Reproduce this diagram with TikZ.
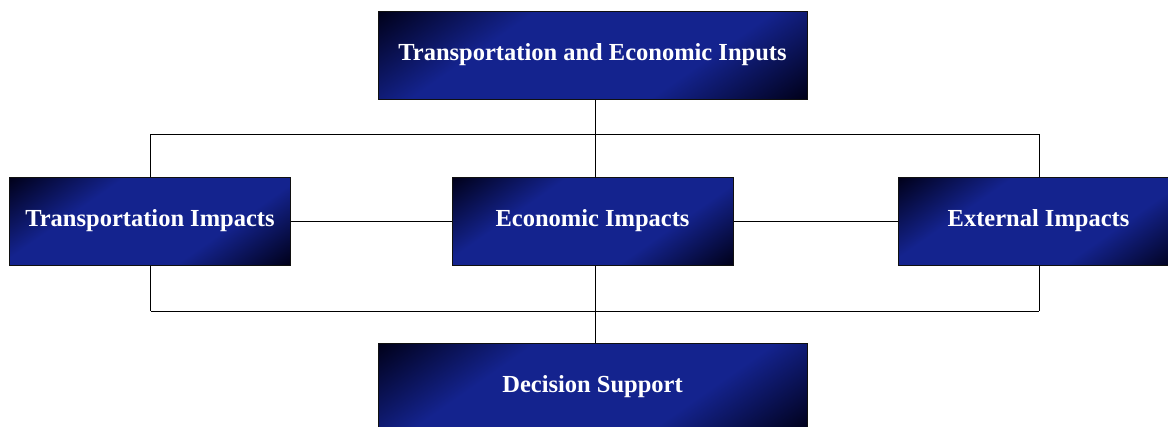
\documentclass[tikz,border=0pt]{standalone}
\usepackage{fontspec}
\setmainfont{Liberation Serif}
\definecolor{boxblue}{HTML}{14238E}
\definecolor{boxdark}{HTML}{000018}
\definecolor{boxedge}{HTML}{101010}
\pgfdeclarehorizontalshading{boxshade}{100bp}{color(0bp)=(boxdark); color(15bp)=(boxdark); color(35bp)=(boxblue); color(65bp)=(boxblue); color(85bp)=(boxdark); color(100bp)=(boxdark)}
\tikzset{
  box/.style={draw=boxedge, line width=1pt, shading=boxshade, shading angle=-55,
    minimum height=88pt, inner sep=0pt, text=white,
    font=\fontsize{24.5}{28}\selectfont\bfseries},
  wide/.style={box, minimum width=429pt},
  mid/.style={box, minimum width=281pt},
  link/.style={draw=black, line width=0.9pt}
}
\begin{document}
\begin{tikzpicture}[x=1pt,y=-1pt]
\useasboundingbox (0,0) rectangle (1168,426);
\fill[white] (0,0) rectangle (1168,426);
\coordinate (b1l) at (150.5,134);
\coordinate (b1r) at (1039,134);
\coordinate (b2l) at (150.5,311);
\coordinate (b2r) at (1039,311);
\node[wide] (inp) at (592.5,55) {Transportation and Economic Inputs};
\node[mid] (tr) at (150,221) {Transportation Impacts};
\node[mid] (eco) at (592.5,221) {Economic Impacts};
\node[mid] (ext) at (1038.5,221) {External Impacts};
\node[wide] (dec) at (592.5,387) {Decision Support};
\draw[link] ([xshift=2.5pt]inp.south) -- ([xshift=2.5pt]eco.north);
\draw[link] (b1l) -- (b1r);
\draw[link] ([xshift=0.5pt]tr.north) -- (b1l);
\draw[link] ([xshift=0.5pt]ext.north) -- (b1r);
\draw[link] (b2l) -- (b2r);
\draw[link] ([xshift=0.5pt]tr.south) -- (b2l);
\draw[link] ([xshift=0.5pt]ext.south) -- (b2r);
\draw[link] ([xshift=2.5pt]eco.south) -- ([xshift=2.5pt]dec.north);
\draw[link] (tr.east) -- (eco.west);
\draw[link] (eco.east) -- (ext.west);
\end{tikzpicture}
\end{document}
